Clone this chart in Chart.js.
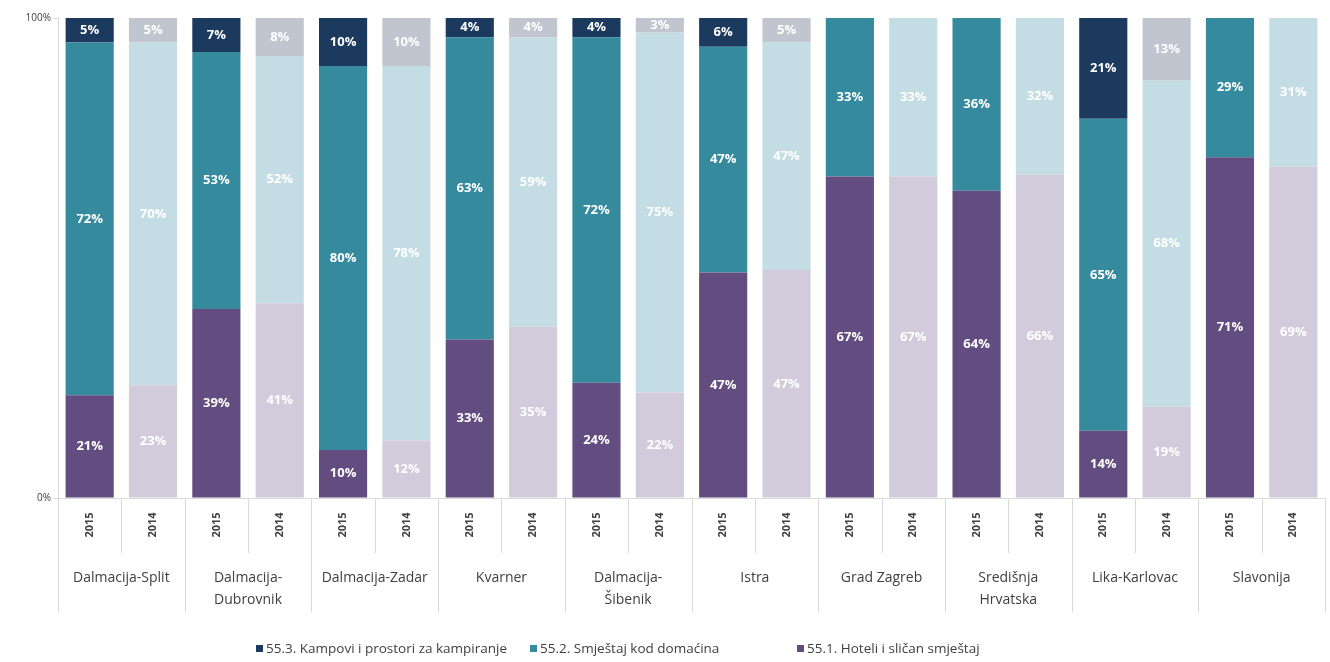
<!DOCTYPE html>
<html>
<head>
<meta charset="utf-8">
<script src="https://cdn.jsdelivr.net/npm/chart.js@4"></script>
<style>
    html, body { margin: 0; padding: 0; background: #fff; }
    #wrap { width: 1330px; height: 662px; position: relative; }
</style>
</head>
<body>
<div id="wrap"><canvas id="myChart"></canvas></div>
<script>
// data (labels as printed)
let regions = ['Dalmacija-Split', ['Dalmacija-', 'Dubrovnik'], 'Dalmacija-Zadar', 'Kvarner', ['Dalmacija-', 'Šibenik'],
    'Istra', 'Grad Zagreb', ['Središnja', 'Hrvatska'], 'Lika-Karlovac', 'Slavonija']
let years = ['2015', '2014']

let hoteli = [21, 23, 39, 41, 10, 12, 33, 35, 24, 22, 47, 47, 67, 67, 64, 66, 14, 19, 71, 69]
let domacin = [72, 70, 53, 52, 80, 78, 63, 59, 72, 75, 47, 47, 33, 33, 36, 32, 65, 68, 29, 31]
let kampovi = [5, 5, 7, 8, 10, 10, 4, 4, 4, 3, 6, 5, 0, 0, 0, 0, 21, 13, 0, 0]

let seriesNames = ['55.1. Hoteli i sličan smještaj', '55.2. Smještaj kod domaćina', '55.3. Kampovi i prostori za kampiranje']

// colours: [2015, 2014]
let colHoteli = ['#634d80', '#d1cbdc']
let colDomacin = ['#358a9e', '#c4dde4']
let colKampovi = ['#1b3a5e', '#c1c5d0']

let labels = []
regions.forEach(r => years.forEach(y => labels.push(y)))

let totals = hoteli.map((v, i) => v + domacin[i] + kampovi[i])
let share = arr => arr.map((v, i) => v / totals[i] * 100)
let alt = pair => labels.map((l, i) => pair[i % 2])

let font = "'Open Sans', 'Noto Sans', sans-serif"

// value labels inside the segments
let valueLabels = {
    id: 'valueLabels',
    afterDatasetsDraw(chart) {
        let ctx = chart.ctx
        ctx.save()
        ctx.fillStyle = '#ffffff'
        ctx.font = 'bold 13px ' + font
        ctx.textAlign = 'center'
        ctx.textBaseline = 'middle'
        chart.data.datasets.forEach((ds, di) => {
            let meta = chart.getDatasetMeta(di)
            meta.data.forEach((bar, i) => {
                let v = ds.raw[i]
                if (!v) return
                let mid = (bar.y + bar.base) / 2
                ctx.fillText(v + '%', bar.x, mid)
            })
        })
        ctx.restore()
    }
}

// two level x axis + separators + legend
let xLabels = {
    id: 'xLabels',
    afterDraw(chart) {
        let ctx = chart.ctx
        let x = chart.scales.x
        let area = chart.chartArea
        let step = x.getPixelForValue(1) - x.getPixelForValue(0)
        ctx.save()
        ctx.strokeStyle = '#d9d9d9'
        ctx.lineWidth = 1
        for (let i = 0; i <= labels.length; i++) {
            let px = Math.round(x.getPixelForValue(i) - step / 2) + 0.5
            let bottom = i % 2 == 0 ? 612 : 553
            ctx.beginPath()
            ctx.moveTo(px, area.bottom)
            ctx.lineTo(px, bottom)
            ctx.stroke()
        }
        ctx.fillStyle = '#404040'
        ctx.font = 'bold 11px ' + font
        ctx.textAlign = 'center'
        ctx.textBaseline = 'middle'
        labels.forEach((l, i) => {
            ctx.save()
            ctx.translate(x.getPixelForValue(i), 525)
            ctx.rotate(-Math.PI / 2)
            ctx.fillText(l, 0, 0)
            ctx.restore()
        })
        ctx.font = '14px ' + font
        regions.forEach((r, i) => {
            let cx = (x.getPixelForValue(i * 2) + x.getPixelForValue(i * 2 + 1)) / 2
            let lines = Array.isArray(r) ? r : [r]
            lines.forEach((t, j) => ctx.fillText(t, cx, 578 + j * 22))
        })
        // legend
        let items = [
            [seriesNames[2], colKampovi[0], 256],
            [seriesNames[1], colDomacin[0], 530],
            [seriesNames[0], colHoteli[0], 797]
        ]
        ctx.font = '13.5px ' + font
        ctx.textAlign = 'left'
        items.forEach(it => {
            ctx.fillStyle = it[1]
            ctx.fillRect(it[2], 645, 7, 7)
            ctx.fillStyle = '#404040'
            ctx.fillText(it[0], it[2] + 10, 649)
        })
        ctx.restore()
    }
}

let ctx = document.getElementById('myChart').getContext('2d')
let myChart = new Chart(ctx, {
    type: 'bar',
    data: {
        labels: labels,
        datasets: [{
            label: seriesNames[0],
            data: share(hoteli),
            raw: hoteli,
            backgroundColor: alt(colHoteli)
        }, {
            label: seriesNames[1],
            data: share(domacin),
            raw: domacin,
            backgroundColor: alt(colDomacin)
        }, {
            label: seriesNames[2],
            data: share(kampovi),
            raw: kampovi,
            backgroundColor: alt(colKampovi)
        }]
    },
    options: {
        responsive: true,
        maintainAspectRatio: false,
        animation: false,
        datasets: {
            bar: { categoryPercentage: 1, barPercentage: 0.76 }
        },
        layout: { padding: { top: 18, right: 5, left: 0, bottom: 0 } },
        plugins: {
            legend: { display: false },
            tooltip: { enabled: false }
        },
        scales: {
            x: {
                stacked: true,
                grid: { display: false },
                border: { color: '#d9d9d9' },
                ticks: { display: false },
                afterFit: s => { s.height = 164 }
            },
            y: {
                stacked: true,
                min: 0,
                max: 100,
                grid: { drawOnChartArea: false, drawTicks: true, tickLength: 5, color: '#d9d9d9' },
                border: { color: '#d9d9d9' },
                ticks: {
                    stepSize: 100,
                    color: '#404040',
                    font: { family: font, size: 10 },
                    padding: 2,
                    callback: v => v + '%'
                },
                afterFit: s => { s.width = 58 }
            }
        }
    },
    plugins: [valueLabels, xLabels]
});
</script>
</body>
</html>
